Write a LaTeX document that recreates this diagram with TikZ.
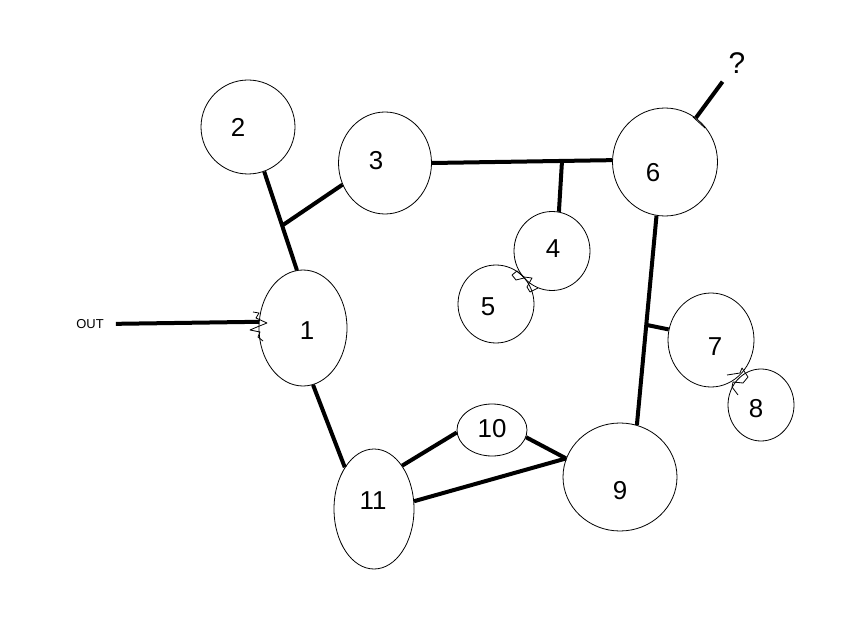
\documentclass[tikz,border=0pt]{standalone}
\usepackage{fontspec}
\setmainfont{Liberation Sans}
\usetikzlibrary{shapes.geometric}
\begin{document}
\begin{tikzpicture}[x=1bp,y=-1bp,
  bub/.style={ellipse,draw,line width=0.8bp,inner sep=0pt},
  lbl/.style={font=\fontsize{26}{26}\selectfont,inner sep=0pt},
  wire/.style={line width=4bp},
  squig/.style={line width=0.8bp,line join=round}]
\useasboundingbox[fill=white] (0,0) rectangle (853,627);
% bubbles
\node[bub,minimum width=94bp,minimum height=94bp] (n2) at (248,127) {};
\node[bub,minimum width=93bp,minimum height=102bp] (n3) at (385,163) {};
\node[bub,minimum width=105bp,minimum height=108bp] (n6) at (665,162) {};
\node[bub,minimum width=76bp,minimum height=79bp] (n4) at (552,251) {};
\node[bub,minimum width=76bp,minimum height=78bp] (n5) at (496,304) {};
\node[bub,minimum width=88bp,minimum height=116bp] (n1) at (303,328) {};
\node[bub,minimum width=86bp,minimum height=94bp] (n7) at (711,340) {};
\node[bub,minimum width=66bp,minimum height=72bp] (n8) at (761,405) {};
\node[bub,minimum width=70bp,minimum height=52bp] (n10) at (492,430) {};
\node[bub,minimum width=114bp,minimum height=108bp] (n9) at (620,477) {};
\node[bub,minimum width=80bp,minimum height=120bp] (n11) at (374,509) {};
% labels
\node[lbl] (t2) at (238,127) {2};
\node[lbl] (t3) at (376,161) {3};
\node[lbl] (t6) at (653,173) {6};
\node[lbl] (t4) at (553,249) {4};
\node[lbl] (t5) at (488,307) {5};
\node[lbl] (t1) at (307,331) {1};
\node[lbl] (t7) at (715,347) {7};
\node[lbl] (t8) at (756,409) {8};
\node[lbl] (t10) at (492,429) {10};
\node[lbl] (t9) at (620,491) {9};
\node[lbl] (t11) at (373,501) {11};
\node[font=\fontsize{30}{30}\selectfont,inner sep=0pt] (q) at (737,63) {?};
\node[font=\fontsize{13}{13}\selectfont,inner sep=0pt] (outl) at (90,324) {OUT};
% junctions
\coordinate (j1) at (283,225);
\coordinate (j2) at (562,161);
\coordinate (j3) at (647,325);
% wires
\draw[wire] (n2.290) -- (n1.96);
\draw[wire] (n3.207) -- (j1);
\draw[wire] (n3.0) -- (n6.178);
\draw[wire] (j2) -- (n4.80);
\draw[wire] (n6.261) -- (n9.72);
\draw[wire] (j3) -- (n7.166);
\draw[wire] (n1.280) -- (n11.125);
\draw[wire] (n11.57) -- (n10.184);
\draw[wire] (n10.348) -- (n9.161);
\draw[wire] (n11.11) -- (n9.161);
\draw[wire,shorten <=12bp] (outl.east) -- (n1.172);
\draw[wire,shorten >=10bp] (n6.55) -- (q.south west);
% squiggles
\draw[squig] (253,312) -- (259,313) -- (256,318) -- (267,323) -- (257,327) -- (250,330) -- (260,332) -- (258,337) -- (263,341);
\draw[squig] (512,275) -- (517,271) -- (524,277) -- (532,278) -- (527,287) -- (530,292) -- (538,288);
\draw[squig] (512,275) -- (516,280) -- (524,278);
\draw[squig] (727,375) -- (740,373) -- (742,368) -- (748,377) -- (743,383) -- (733,382) -- (732,387) -- (738,395);
\draw[squig] (693,117) -- (705,128);
\end{tikzpicture}
\end{document}
